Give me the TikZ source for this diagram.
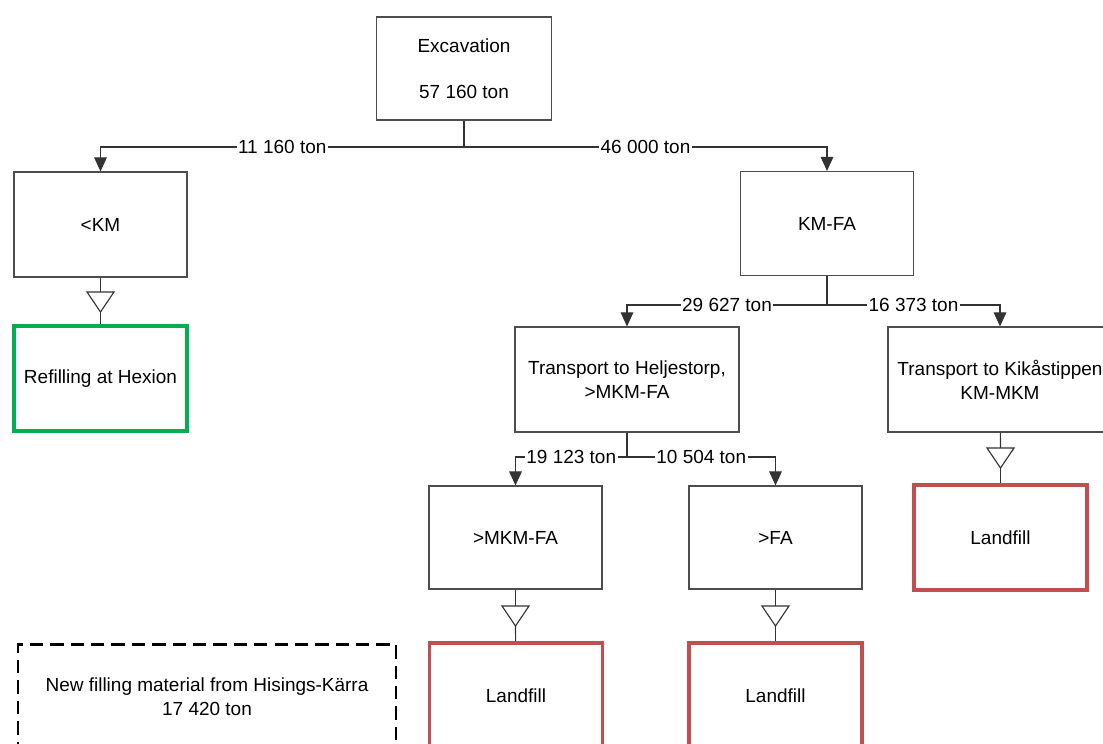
\documentclass[tikz,border=0pt]{standalone}
\usepackage{fontspec}
\setmainfont{Liberation Sans}
\usepackage{xcolor}
\definecolor{massLine}{HTML}{333333}
\definecolor{massBorder}{HTML}{4D4D4D}
\definecolor{refillGreen}{HTML}{00B050}
\definecolor{landfillRed}{HTML}{C0504D}
\usepackage{tikz}
\usetikzlibrary{arrows.meta,positioning}
\tikzset{
    stage/.style={
        draw=massBorder,
        fill=white,
        rectangle,
        align=center,
        line width=0.8pt,
        minimum width=4.325cm,
        minimum height=2.625cm,
        inner sep=2pt,
        font=\fontsize{13.5}{17}\selectfont
    },
    transport/.style={
        stage,
        minimum width=5.6cm
    },
    refill/.style={
        stage,
        draw=refillGreen,
        line width=2.2pt
    },
    landfill/.style={
        stage,
        draw=landfillRed,
        line width=2.2pt
    },
    newfill/.style={
        stage,
        draw=black,
        line width=2pt,
        dash pattern=on 9.5pt off 5pt,
        minimum width=9.45cm
    },
    flow/.style={
        -{Triangle[length=10pt,width=9pt]},
        line width=0.8pt,
        color=massLine
    },
    link/.style={
        line width=0.8pt,
        color=massLine
    },
    tonnage/.style={
        font=\fontsize{13.5}{17}\selectfont,
        text=black,
        fill=white,
        inner sep=1pt
    },
    dropmark/.style={
        draw=massLine,
        line width=0.8pt,
        fill=white
    }
}

\begin{document}
\begin{tikzpicture}[x=0.025cm, y=-0.025cm]
    \useasboundingbox (0,0) rectangle (1103,743);
    \clip (0,0) rectangle (1103,743);

    % Excavation
    \node[stage, minimum width=4.375cm, minimum height=2.575cm] (exc) at (464,68.5)
        {Excavation\\[16pt]57 160 ton};

    % First split
    \node[stage] (km) at (100.5,224.5) {<KM};
    \node[stage, minimum height=2.6cm] (kmfa) at (827,223.5) {KM-FA};
    \coordinate (excJ) at (464,147);
    \draw[link] (exc) -- (excJ);
    \draw[flow] (excJ) -| node[tonnage, pos=0.25] {11 160 ton} (km);
    \draw[flow] (excJ) -| node[tonnage, pos=0.25] {46 000 ton} (kmfa);

    % Transports
    \node[transport] (helj) at (627,379.5) {Transport to Heljestorp,\\>MKM-FA};
    \node[transport] (kik) at (1000,379.5) {Transport to Kikåstippen\\KM-MKM};
    \coordinate (kmfaJ) at (827,305);
    \draw[link] (kmfa) -- (kmfaJ);
    \draw[flow] (kmfaJ) -| node[tonnage, pos=0.25] {29 627 ton} (helj);
    \draw[flow] (kmfaJ) -| node[tonnage, pos=0.25] {16 373 ton} (kik);

    % Sorting at Heljestorp
    \node[stage, minimum height=2.575cm] (mkm) at (515.5,537.5) {>MKM-FA};
    \node[stage, minimum height=2.575cm] (fa) at (775.5,537.5) {>FA};
    \coordinate (heljJ) at (627,457);
    \draw[link] (helj) -- (heljJ);
    \draw[flow] (heljJ) -| node[tonnage, pos=0.25] {19 123 ton} (mkm);
    \draw[flow] (heljJ) -| node[tonnage, pos=0.25] {10 504 ton} (fa);

    % Destinations
    \node[refill] (hexion) at (100.5,378.5) {Refilling at Hexion};
    \node[landfill] (land1) at (1000.5,537.5) {Landfill};
    \node[landfill] (land2) at (516,695.5) {Landfill};
    \node[landfill] (land3) at (775.5,695.5) {Landfill};
    \node[newfill] (kaerra) at (207,697) {New filling material from Hisings-Kärra\\17 420 ton};

    % Deposit marks
    \foreach \src/\dst/\x/\y in {km/hexion/100.5/292, kik/land1/1000.5/448,
                                 mkm/land2/515.5/606, fa/land3/775.5/606} {
        \coordinate (\src-top) at (\x,\y);
        \coordinate (\src-tip) at (\x,\y+20);
        \draw[link] (\src) -- (\src-top);
        \draw[dropmark] (\src-top) ++(-13.5,0) -- ++(27,0) -- (\src-tip) -- cycle;
        \draw[link] (\src-tip) -- (\dst);
    }
\end{tikzpicture}
\end{document}
